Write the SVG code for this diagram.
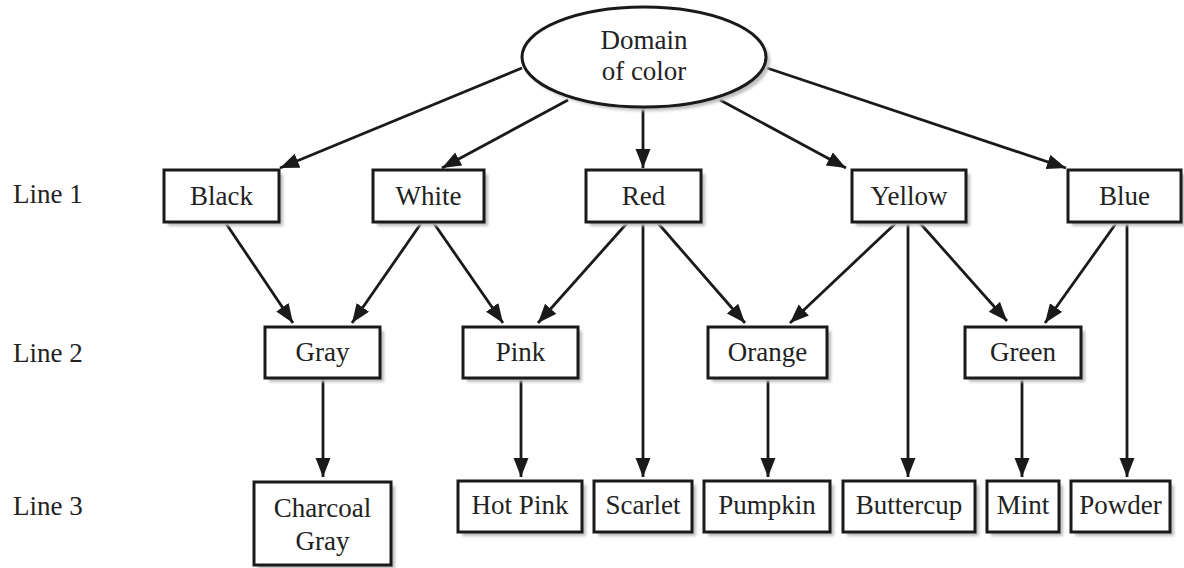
<svg xmlns="http://www.w3.org/2000/svg" width="1184" height="568" viewBox="0 0 1184 568">
<style>
  .box{fill:#fff;stroke:#1a1a1a;stroke-width:3}
  .sh{fill:#bdbdbd;filter:url(#blur)}
  .t{font-family:"Liberation Serif","Times New Roman",serif;font-size:27px;fill:#222;text-anchor:middle}
  .lbl{font-family:"Liberation Serif","Times New Roman",serif;font-size:27px;fill:#222}
  .c{stroke:#1a1a1a;stroke-width:2.8;fill:none;marker-end:url(#ah)}
</style>
<defs>
  <filter id="blur" x="-10%" y="-10%" width="120%" height="130%"><feGaussianBlur stdDeviation="1.5"/></filter>
  <marker id="ah" markerUnits="userSpaceOnUse" markerWidth="20" markerHeight="16" refX="19" refY="7.5" orient="auto">
    <path d="M0,0 L19,7.5 L0,15 z" fill="#1a1a1a"/>
  </marker>
</defs>
<rect width="1184" height="568" fill="#fff"/>

<g id="labels">
  <text class="lbl" x="13" y="203">Line 1</text>
  <text class="lbl" x="13" y="362">Line 2</text>
  <text class="lbl" x="13" y="515">Line 3</text>
</g>

<g id="connectors">
  <line class="c" x1="522" y1="68" x2="280" y2="168"/>
  <line class="c" x1="568" y1="100" x2="442" y2="168"/>
  <line class="c" x1="643" y1="108" x2="643" y2="168"/>
  <line class="c" x1="720" y1="100" x2="846" y2="168"/>
  <line class="c" x1="767" y1="68" x2="1066" y2="168"/>

  <line class="c" x1="225" y1="222" x2="293" y2="323"/>
  <line class="c" x1="422" y1="222" x2="352" y2="323"/>
  <line class="c" x1="433" y1="222" x2="503" y2="323"/>
  <line class="c" x1="628" y1="222" x2="538" y2="323"/>
  <line class="c" x1="643" y1="222" x2="643" y2="477"/>
  <line class="c" x1="657" y1="222" x2="745" y2="323"/>
  <line class="c" x1="897" y1="222" x2="790" y2="323"/>
  <line class="c" x1="908" y1="222" x2="908" y2="477"/>
  <line class="c" x1="919" y1="222" x2="1007" y2="321"/>
  <line class="c" x1="1117" y1="222" x2="1045" y2="323"/>
  <line class="c" x1="1127" y1="222" x2="1127" y2="477"/>

  <line class="c" x1="323" y1="378" x2="323" y2="477"/>
  <line class="c" x1="521" y1="378" x2="521" y2="477"/>
  <line class="c" x1="768" y1="378" x2="768" y2="477"/>
  <line class="c" x1="1022" y1="378" x2="1022" y2="477"/>
</g>

<g id="domain">
  <ellipse class="sh" cx="648" cy="61" rx="122" ry="50"/>
  <ellipse class="box" cx="644" cy="57" rx="122" ry="50"/>
  <text class="t" x="644" y="49">Domain</text>
  <text class="t" x="644" y="80">of color</text>
</g>

<g id="black"><rect class="sh" x="168" y="174" width="115" height="52"/><rect class="box" x="164" y="170" width="115" height="52"/><text class="t" x="221.5" y="205">Black</text></g>
<g id="white"><rect class="sh" x="377" y="174" width="111" height="52"/><rect class="box" x="373" y="170" width="111" height="52"/><text class="t" x="428.5" y="205">White</text></g>
<g id="red"><rect class="sh" x="590" y="174" width="115" height="52"/><rect class="box" x="586" y="170" width="115" height="52"/><text class="t" x="643.5" y="205">Red</text></g>
<g id="yellow"><rect class="sh" x="856" y="174" width="114" height="52"/><rect class="box" x="852" y="170" width="114" height="52"/><text class="t" x="909" y="205">Yellow</text></g>
<g id="blue"><rect class="sh" x="1072" y="174" width="113" height="52"/><rect class="box" x="1068" y="170" width="113" height="52"/><text class="t" x="1124.5" y="205">Blue</text></g>

<g id="gray"><rect class="sh" x="269" y="331" width="115" height="51"/><rect class="box" x="265" y="327" width="115" height="51"/><text class="t" x="322.5" y="361">Gray</text></g>
<g id="pink"><rect class="sh" x="467" y="331" width="115" height="51"/><rect class="box" x="463" y="327" width="115" height="51"/><text class="t" x="520.5" y="361">Pink</text></g>
<g id="orange"><rect class="sh" x="712" y="331" width="119" height="51"/><rect class="box" x="708" y="327" width="119" height="51"/><text class="t" x="767.5" y="361">Orange</text></g>
<g id="green"><rect class="sh" x="969" y="331" width="116" height="51"/><rect class="box" x="965" y="327" width="116" height="51"/><text class="t" x="1023" y="361">Green</text></g>

<g id="charcoal"><rect class="sh" x="258" y="486" width="137" height="83"/><rect class="box" x="254" y="482" width="137" height="83"/><text class="t" x="322.5" y="517">Charcoal</text><text class="t" x="322.5" y="550">Gray</text></g>
<g id="hotpink"><rect class="sh" x="462" y="485" width="124" height="51"/><rect class="box" x="458" y="481" width="124" height="51"/><text class="t" x="520" y="514">Hot Pink</text></g>
<g id="scarlet"><rect class="sh" x="598" y="485" width="98" height="51"/><rect class="box" x="594" y="481" width="98" height="51"/><text class="t" x="643" y="514">Scarlet</text></g>
<g id="pumpkin"><rect class="sh" x="708" y="485" width="126" height="51"/><rect class="box" x="704" y="481" width="126" height="51"/><text class="t" x="767" y="514">Pumpkin</text></g>
<g id="buttercup"><rect class="sh" x="847" y="485" width="132" height="51"/><rect class="box" x="843" y="481" width="132" height="51"/><text class="t" x="909" y="514">Buttercup</text></g>
<g id="mint"><rect class="sh" x="991" y="485" width="72" height="51"/><rect class="box" x="987" y="481" width="72" height="51"/><text class="t" x="1023" y="514">Mint</text></g>
<g id="powder"><rect class="sh" x="1075" y="485" width="99" height="51"/><rect class="box" x="1071" y="481" width="99" height="51"/><text class="t" x="1120.5" y="514">Powder</text></g>
</svg>
